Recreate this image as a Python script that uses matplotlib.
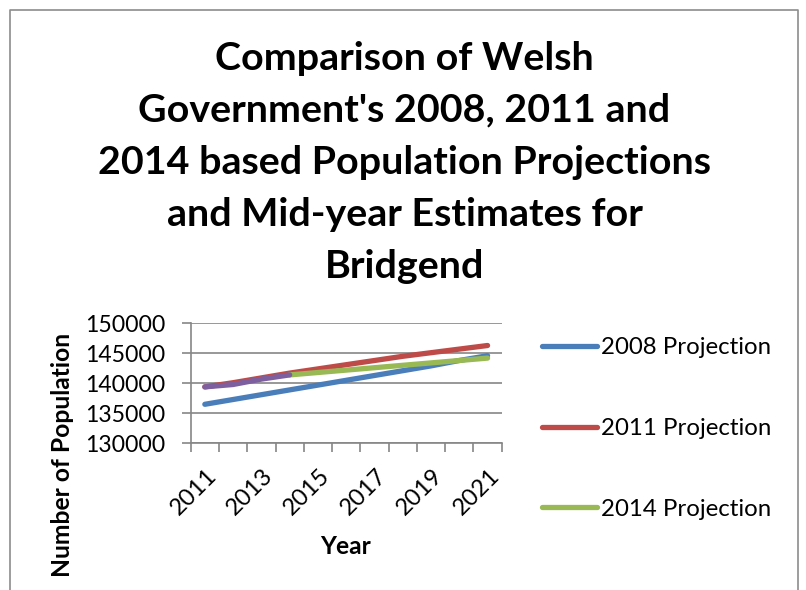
import matplotlib
matplotlib.use("Agg")
import matplotlib.pyplot as plt
from matplotlib.lines import Line2D
import matplotlib.transforms as mtransforms
import numpy as np

years = [2011, 2012, 2013, 2014, 2015, 2016, 2017, 2018, 2019, 2020, 2021]
proj_2008 = [136500, 137300, 138100, 138900, 139700, 140500, 141300, 142100, 142900, 143800, 144600]
proj_2011 = [139400, 140100, 140900, 141700, 142400, 143100, 143800, 144500, 145100, 145700, 146300]
proj_2014 = [None, None, None, 141400, 141800, 142200, 142600, 143000, 143400, 143800, 144200]
mid_year = [139400, 139800, 140700, 141400, None, None, None, None, None, None, None]
series_names = ["2008 Projection", "2011 Projection", "2014 Projection", "Mid-year Estimates"]
yticks = [130000, 135000, 140000, 145000, 150000]
xtick_labels = ["2011", "2013", "2015", "2017", "2019", "2021"]
title_lines = ["Comparison of Welsh", "Government's 2008, 2011 and",
               "2014 based Population Projections", "and Mid-year Estimates for", "Bridgend"]

FONT = "Lato"
plt.rcParams["font.family"] = [FONT, "DejaVu Sans"]

W, H = 806, 590
fig = plt.figure(figsize=(W / 100, H / 100), dpi=100)

def fx(px):
    return px / W

def fy(py):
    return 1 - py / H

# outer border
border = Line2D([fx(10), fx(10), fx(798), fx(798)], [fy(600), fy(10), fy(10), fy(600)],
                transform=fig.transFigure, color="#8c8c8c", lw=1.2)
fig.add_artist(border)

ax_l, ax_r, ax_t, ax_b = 190.7, 501.7, 323.3, 443.3
ax = fig.add_axes([fx(ax_l), fy(ax_b), (ax_r - ax_l) / W, (ax_b - ax_t) / H])

x = np.arange(len(years))
colors = ["#4A7EBB", "#BE4B48", "#98B954", "#7D5FA0"]
data = [proj_2008, proj_2011, proj_2014, mid_year]
handles = []
for vals, c, name in zip(data, colors, series_names):
    v = np.array([np.nan if a is None else a for a in vals], dtype=float)
    h, = ax.plot(x, v, color=c, lw=3.8, solid_capstyle="round", solid_joinstyle="round", label=name)
    handles.append(h)

ax.set_xlim(-0.5, len(years) - 0.5)
ax.set_ylim(130000, 150000)
ax.set_yticks(yticks)
ax.set_yticklabels([str(t) for t in yticks])
ax.grid(axis="y", color="#868686", lw=1.2)
ax.set_axisbelow(True)
for s in ["top", "right"]:
    ax.spines[s].set_visible(False)
for s in ["left", "bottom"]:
    ax.spines[s].set_color("#868686")
    ax.spines[s].set_linewidth(1.2)

ax.set_xticks(np.arange(-0.5, len(years), 1.0))
ax.set_xticklabels([])
ax.tick_params(axis="x", which="major", length=6.5, width=1.2, color="#868686")
ax.tick_params(axis="y", length=6.5, width=1.2, color="#868686", pad=12)

fig.canvas.draw()
r = fig.canvas.get_renderer()

ax.tick_params(axis="y", labelsize=16)
fig.canvas.draw()
w = ax.get_yticklabels()[0].get_window_extent(r).width
tick_fs = 16 * 80 / w
ax.tick_params(axis="y", labelsize=tick_fs)

# x category labels (every other year), anchored at upper-right, rotated 45 degrees
offset = mtransforms.ScaledTranslation(1 / 100, -22 / 100, fig.dpi_scale_trans)
xform = ax.get_xaxis_transform() + offset
for xi, lab in zip(x[::2], xtick_labels):
    ax.text(xi, 0, lab, transform=xform, rotation=45, ha="right", va="top",
            rotation_mode="anchor", fontsize=tick_fs * 1.03, color="black")

title_y = [58, 110, 163, 215, 266]
ttexts = [fig.text(fx(404.5), fy(yy), s, ha="center", va="center", fontsize=28, fontweight="bold")
          for s, yy in zip(title_lines, title_y)]
ylab = fig.text(fx(63), fy(454.5), "Number of Population", rotation=90, ha="center", va="center",
                fontsize=16, fontweight="bold")
xlab = fig.text(fx(345.5), fy(546.7), "Year", ha="center", va="center", fontsize=16, fontweight="bold")
probe = fig.text(0, 0, series_names[0], fontsize=16)

fig.canvas.draw()
tw = ttexts[2].get_window_extent(r).width
tfs = 28 * 613 / tw
for t in ttexts:
    t.set_fontsize(tfs)
hh = ylab.get_window_extent(r).height
ylab.set_fontsize(16 * 245 / hh)
xlab.set_fontsize(16 * 245 / hh)
leg_fs = 16 * 170 / probe.get_window_extent(r).width
probe.remove()

fs_px = leg_fs * 100 / 72

def make_legend(anchor_y, ls):
    lg = fig.legend(handles[:3], series_names[:3], loc="upper left",
                    bbox_to_anchor=(fx(541.7), anchor_y),
                    frameon=False, fontsize=leg_fs, handlelength=55.3 / fs_px,
                    handletextpad=4 / fs_px, labelspacing=ls,
                    borderpad=0, borderaxespad=0)
    for lh in lg.get_lines():
        lh.set_linewidth(3.8)
        lh.set_solid_capstyle("round")
    return lg

ls0 = (80.7 - 1.2 * fs_px) / fs_px
ay0 = fy(347.7 - 0.6 * fs_px)
leg = make_legend(ay0, ls0)
fig.canvas.draw()
texts = leg.get_texts()
c0 = texts[0].get_window_extent(r)
c1 = texts[1].get_window_extent(r)
cy0 = H - (c0.y0 + c0.y1) / 2
dy = (c0.y0 + c0.y1) / 2 - (c1.y0 + c1.y1) / 2
leg.remove()
leg = make_legend(ay0 - (347.7 - cy0) / H, ls0 + (80.7 - dy) / fs_px)

fig.savefig("out.png", dpi=100)
